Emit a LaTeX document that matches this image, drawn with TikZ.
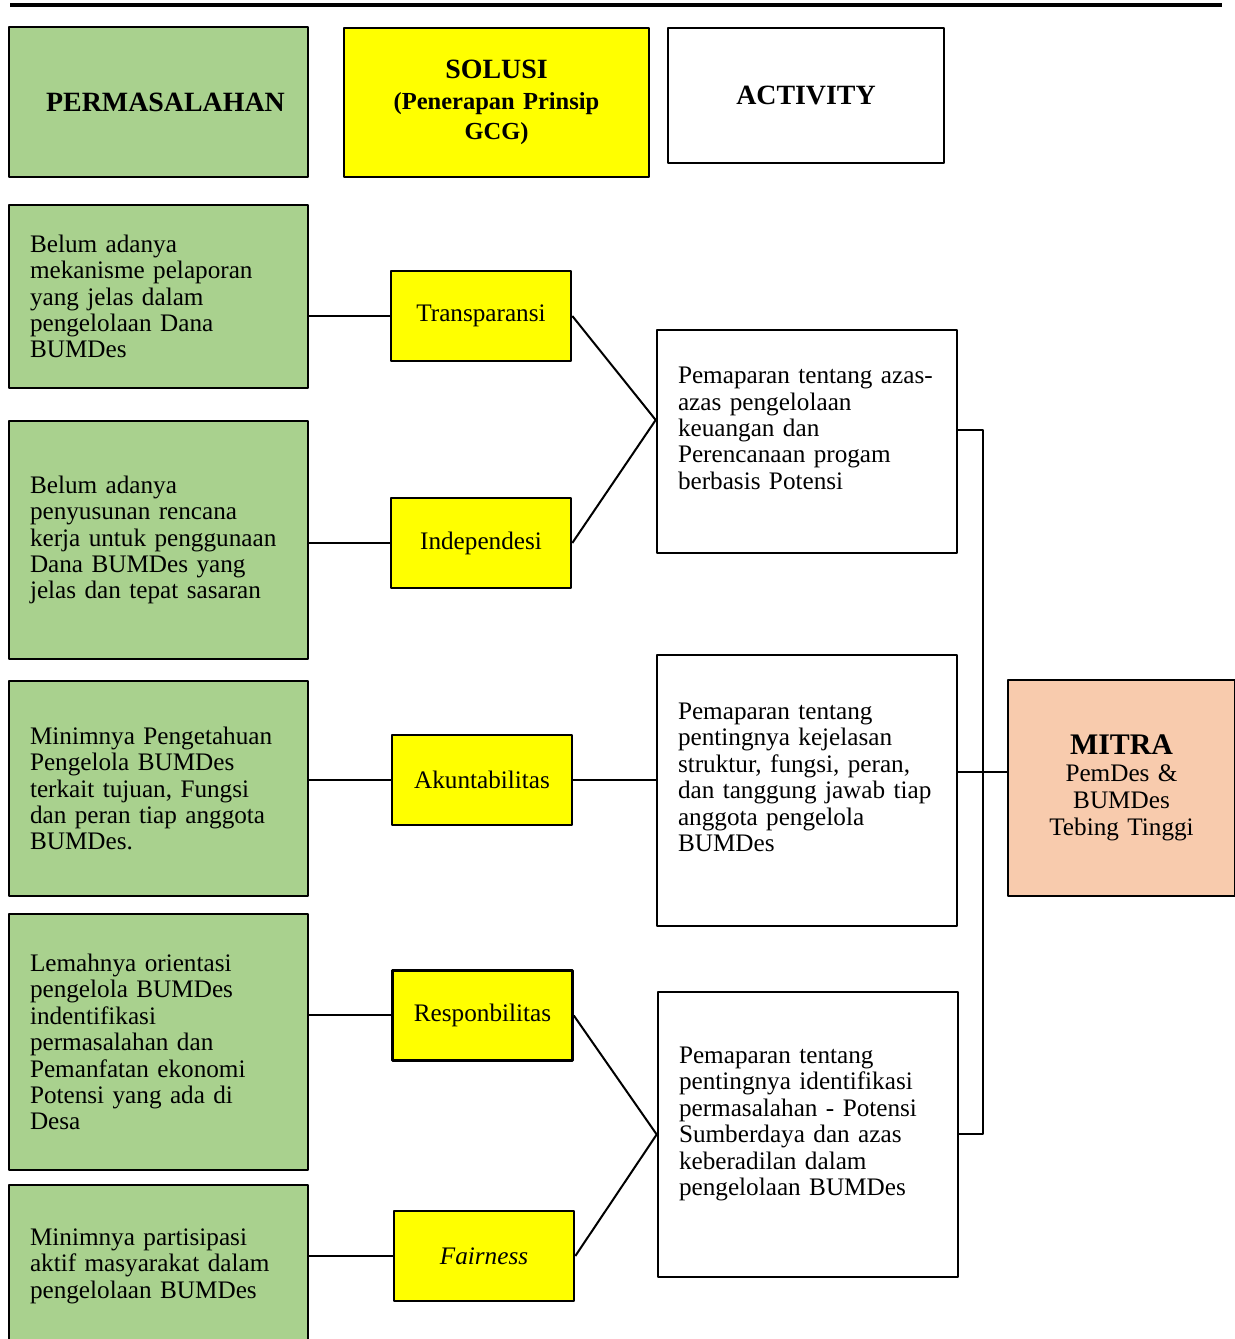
\documentclass[tikz,border=0pt]{standalone}
\usepackage{fontspec}
\setmainfont{Liberation Serif}
\definecolor{probgreen}{HTML}{A9D18E}
\definecolor{solyellow}{HTML}{FFFF00}
\definecolor{mitrapeach}{HTML}{F8CBAD}

\begin{document}
\begin{tikzpicture}[line join=bevel,
  every node/.style={font=\fontsize{12.65}{13.25}\selectfont},
  headbox/.style={draw,line width=1.3bp,align=center,inner sep=0pt},
  probbox/.style={draw,line width=1.3bp,fill=probgreen,text width=128.5bp,inner xsep=10.5bp,inner ysep=0pt,align=left},
  solbox/.style={draw,line width=1.3bp,fill=solyellow,minimum width=90bp,minimum height=45bp,inner sep=0pt},
  actbox/.style={draw,line width=1.3bp,fill=white,text width=129bp,inner xsep=10.5bp,inner ysep=0pt,align=left},
  link/.style={black,line width=1bp},
]
\useasboundingbox (0,0) rectangle (617.5bp,669.5bp);
\draw [line width=2bp] (5bp,667bp) -- (611bp,667bp);
%% headers
\node (node_h0) at (79.25bp,618.5bp) [headbox,fill=probgreen,minimum width=149.5bp,minimum height=75bp,font=\fontsize{14}{16}\selectfont\bfseries] {\hspace*{7bp}PERMASALAHAN};
\node (node_h1) at (248.25bp,618.25bp) [headbox,fill=solyellow,minimum width=152.5bp,minimum height=74.5bp,text width=140bp,font=\fontsize{12.3}{15.5}\selectfont\bfseries] {{\fontsize{14}{15.5}\selectfont SOLUSI}\\(Penerapan Prinsip\\GCG)};
\node (node_h2) at (403bp,621.75bp) [headbox,fill=white,minimum width=138bp,minimum height=67.5bp,font=\fontsize{14}{16}\selectfont\bfseries] {ACTIVITY};
%% permasalahan
\node (node_p1) at (79.25bp,521.25bp) [probbox,minimum height=91.5bp] {Belum adanya\\mekanisme pelaporan\\yang jelas dalam\\pengelolaan Dana\\BUMDes};
\node (node_p2) at (79.25bp,399.5bp) [probbox,minimum height=119bp] {Belum adanya\\penyusunan rencana\\kerja untuk penggunaan\\Dana BUMDes yang\\jelas dan tepat sasaran};
\node (node_p3) at (79.25bp,275.25bp) [probbox,minimum height=107.5bp] {Minimnya Pengetahuan\\Pengelola BUMDes\\terkait tujuan, Fungsi\\dan peran tiap anggota\\BUMDes.};
\node (node_p4) at (79.25bp,148.5bp) [probbox,minimum height=128bp] {Lemahnya orientasi\\pengelola BUMDes\\indentifikasi\\permasalahan dan\\Pemanfatan ekonomi\\Potensi yang ada di\\Desa};
\node (node_p5) at (79.25bp,36.5bp) [probbox,minimum height=81bp] {Minimnya partisipasi\\aktif masyarakat dalam\\pengelolaan BUMDes};
%% prinsip GCG
\node (node_s1) at (240.5bp,511.5bp) [solbox] {Transparansi};
\node (node_s2) at (240.5bp,398bp) [solbox] {Independesi};
\node (node_s3) at (241bp,279.5bp) [solbox] {Akuntabilitas};
\node (node_s4) at (241.25bp,161.75bp) [solbox] {Responbilitas};
\node (node_s5) at (242bp,41.5bp) [solbox] {\textit{Fairness}};
%% activity
\node (node_a1) at (403.5bp,448.75bp) [actbox,minimum height=111.5bp] {Pemaparan tentang azas-\\azas pengelolaan\\keuangan dan\\Perencanaan progam\\berbasis Potensi\\\mbox{}};
\node (node_a2) at (403.5bp,274.25bp) [actbox,minimum height=135.5bp] {Pemaparan tentang\\pentingnya kejelasan\\struktur, fungsi, peran,\\dan tanggung jawab tiap\\anggota pengelola\\BUMDes\\\mbox{}};
\node (node_a3) at (404bp,102.25bp) [actbox,minimum height=142.5bp] {Pemaparan tentang\\pentingnya identifikasi\\permasalahan - Potensi\\Sumberdaya dan azas\\keberadilan dalam\\pengelolaan BUMDes\\\mbox{}};
%% mitra
\node (node_m) at (560.75bp,275.5bp) [draw,line width=1.3bp,fill=mitrapeach,minimum width=113.5bp,minimum height=108bp,text width=110bp,inner sep=0pt,align=center,font=\fontsize{12.65}{13.5}\selectfont] {{\fontsize{15}{13.5}\selectfont\bfseries MITRA}\\PemDes \&\\BUMDes\\Tebing Tinggi};
\coordinate (node_j) at (491.5bp,283.5bp);
%%
\draw [link] (node_p1.east |- node_s1) -- (node_s1);
\draw [link] (node_p2.east |- node_s2) -- (node_s2);
\draw [link] (node_p3.east |- node_s3) -- (node_s3);
\draw [link] (node_p4.east |- node_s4) -- (node_s4);
\draw [link] (node_p5.east |- node_s5) -- (node_s5);
\draw [link] (node_s1.east) -- ([yshift=10.75bp]node_a1.west) -- (node_s2.east);
\draw [link] (node_s3.east) -- (node_s3.east -| node_a2.west);
\draw [link] (node_s4.east) -- (node_a3.west) -- (node_s5.east);
\draw [link] ([yshift=5.75bp]node_a1.east) -| (node_j) |- (node_a3.east);
\draw [link] (node_a2.east |- node_j) -- (node_j -| node_m.west);
%
\end{tikzpicture}
\end{document}
